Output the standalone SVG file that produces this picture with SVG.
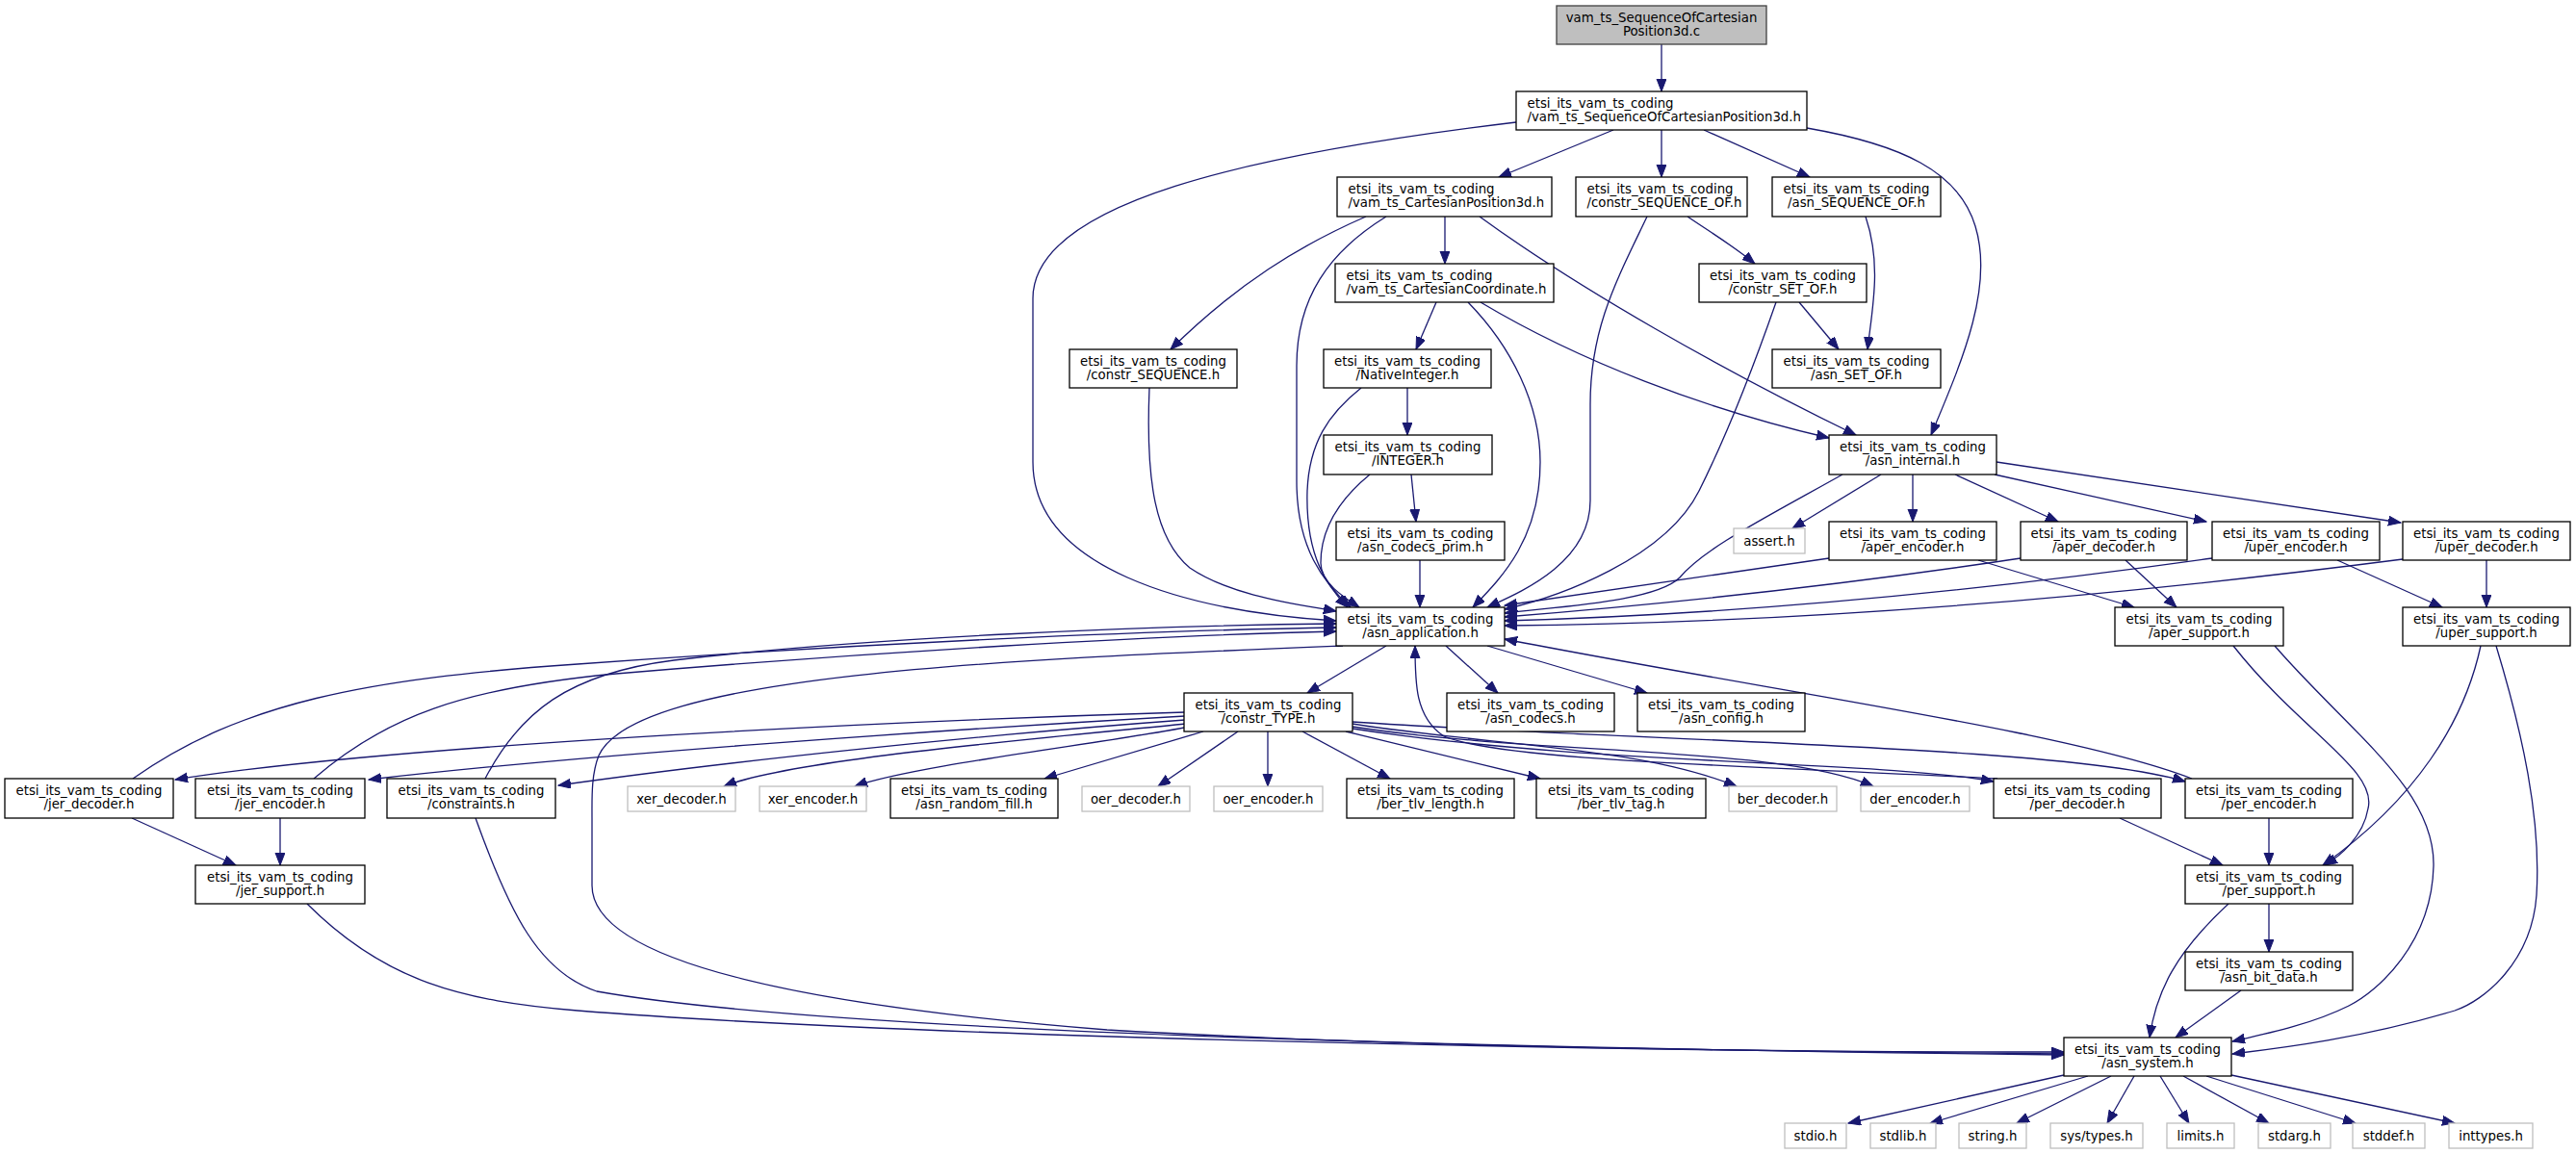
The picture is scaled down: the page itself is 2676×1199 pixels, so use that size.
<svg xmlns="http://www.w3.org/2000/svg" width="2676" height="1199" viewBox="0 0 2676 1199">
<style>
rect{fill:#fff;stroke:#000;stroke-width:1.3}
.gray rect{stroke:#bfbfbf}
.root rect{fill:#bfbfbf;stroke:#404040}
text{font-family:"DejaVu Sans",sans-serif;font-size:13.3px;fill:#000}
.c text{text-anchor:middle}
.edges path{fill:none;stroke:#191970;stroke-width:1.3;marker-end:url(#a)}
</style>
<defs>
<marker id="a" markerUnits="userSpaceOnUse" markerWidth="14" markerHeight="11" refX="13" refY="5" orient="auto"><path d="M0,0 L13,5 L0,10 Z" fill="#191970" stroke="#191970" stroke-width="1"/></marker>
</defs>
<rect x="0" y="0" width="2676" height="1199" style="fill:#fff;stroke:none"/>
<g class="edges">
<path d="M1726,46 L1726,95"/>
<path d="M1676,135 L1557,184"/>
<path d="M1726,135 L1726,184"/>
<path d="M1770,135 L1880,184"/>
<path d="M1575,127 C1300,160 1073,210 1073,310 L1073,480 C1073,590 1230,635 1388,645"/>
<path d="M1877,133 C1975,150 2035,178 2052,235 C2072,300 2036,380 2006,452"/>
<path d="M1419,225 C1350,255 1285,295 1216,363"/>
<path d="M1440,225 C1380,262 1347,310 1347,380 L1347,500 C1347,570 1375,605 1403,631"/>
<path d="M1501,225 L1501,274"/>
<path d="M1537,225 C1640,300 1790,385 1928,452"/>
<path d="M1753,225 C1775,240 1800,255 1823,274"/>
<path d="M1711,225 C1680,290 1652,340 1652,420 L1652,520 C1652,585 1580,615 1545,631"/>
<path d="M1938,225 C1955,275 1945,320 1940,363"/>
<path d="M1492,314 L1471,363"/>
<path d="M1525,314 C1570,360 1600,420 1600,480 C1600,560 1560,600 1530,631"/>
<path d="M1538,314 C1640,375 1770,425 1900,455"/>
<path d="M1869,314 L1910,363"/>
<path d="M1845,314 C1815,400 1790,460 1765,510 C1730,580 1620,620 1563,633"/>
<path d="M1462,403 L1462,452"/>
<path d="M1414,403 C1380,430 1360,460 1358,510 C1356,580 1380,610 1400,631"/>
<path d="M1466,493 L1471,542"/>
<path d="M1423,493 C1390,520 1372,550 1372,585 C1372,605 1395,620 1412,631"/>
<path d="M1475,582 L1475,631"/>
<path d="M1914,493 C1830,540 1770,570 1745,600 C1720,625 1620,630 1563,637"/>
<path d="M1954,493 L1862,549"/>
<path d="M1987,493 L1987,542"/>
<path d="M2031,493 L2138,542"/>
<path d="M2072,493 L2292,542"/>
<path d="M2074,480 L2494,543"/>
<path d="M1900,580 L1563,629"/>
<path d="M2055,582 L2217,631"/>
<path d="M2099,580 C1900,610 1700,630 1563,641"/>
<path d="M2208,582 L2261,631"/>
<path d="M2298,580 C2000,622 1750,640 1563,645"/>
<path d="M2428,582 L2537,631"/>
<path d="M2496,581 C2100,632 1800,648 1563,650"/>
<path d="M2583,582 L2583,631"/>
<path d="M1440,671 L1358,720"/>
<path d="M1502,671 L1556,720"/>
<path d="M1545,671 L1711,720"/>
<path d="M1395,671 C1050,685 660,700 622,785 C614,805 615,830 615,850 L615,920 C615,1010 900,1050 1150,1070 C1500,1090 1900,1093 2144,1093"/>
<path d="M138,809 C250,730 380,705 600,690 C900,668 1200,655 1388,652"/>
<path d="M137,850 L245,899"/>
<path d="M326,809 C400,745 480,715 640,700 C900,678 1200,660 1388,656"/>
<path d="M291,850 L291,899"/>
<path d="M504,809 C540,740 590,700 700,686 C900,662 1200,650 1388,648"/>
<path d="M494,850 C530,950 560,1010 620,1030 C900,1080 1800,1092 2144,1096"/>
<path d="M319,939 C400,1020 480,1040 600,1050 C1000,1082 1800,1092 2144,1095"/>
<path d="M1231,740 C900,750 400,775 182,810"/>
<path d="M1231,744 C950,760 600,785 383,810"/>
<path d="M1231,748 C1000,765 750,792 580,816"/>
<path d="M1232,752 C1050,770 820,790 752,817"/>
<path d="M1235,755 C1150,772 950,795 888,817"/>
<path d="M1250,760 L1085,809"/>
<path d="M1286,760 L1203,817"/>
<path d="M1317,760 L1317,817"/>
<path d="M1353,760 L1444,809"/>
<path d="M1398,760 L1600,809"/>
<path d="M1405,752 C1550,775 1700,775 1804,817"/>
<path d="M1405,755 C1600,785 1850,775 1946,817"/>
<path d="M1405,757 C1650,795 1950,790 2071,812"/>
<path d="M1405,750 C1700,770 2150,775 2270,812"/>
<path d="M2075,809 C1800,795 1560,790 1500,765 C1470,745 1470,710 1470,671"/>
<path d="M2202,850 L2309,899"/>
<path d="M2277,809 C2150,760 1850,720 1563,664"/>
<path d="M2357,850 L2357,899"/>
<path d="M2320,671 C2390,760 2470,800 2460,840 C2455,870 2430,890 2415,899"/>
<path d="M2363,671 C2440,760 2530,820 2528,900 C2526,980 2470,1030 2440,1045 C2400,1065 2350,1075 2319,1082"/>
<path d="M2577,671 C2560,750 2510,830 2413,899"/>
<path d="M2593,671 C2620,760 2640,850 2635,930 C2630,1000 2580,1040 2550,1050 C2450,1080 2360,1090 2319,1095"/>
<path d="M2357,939 L2357,989"/>
<path d="M2315,939 C2260,990 2240,1030 2233,1078"/>
<path d="M2328,1029 L2260,1078"/>
<path d="M1194,403 C1190,500 1200,560 1236,590 C1280,620 1350,628 1388,635"/>
<path d="M2144,1117 L1920,1167"/>
<path d="M2169,1118 L2005,1167"/>
<path d="M2193,1118 L2095,1167"/>
<path d="M2217,1118 L2189,1167"/>
<path d="M2244,1118 L2274,1167"/>
<path d="M2268,1118 L2357,1167"/>
<path d="M2292,1118 L2447,1167"/>
<path d="M2318,1117 L2550,1167"/>
</g>
<g id="n0" class="root c"><rect x="1617" y="6" width="218" height="40"/><text x="1726" y="22.5">vam_ts_SequenceOfCartesian</text><text x="1726" y="37">Position3d.c</text></g>
<g id="n1"><rect x="1575" y="95" width="302" height="40"/><text x="1586.5" y="111.5">etsi_its_vam_ts_coding</text><text x="1586.5" y="126">/vam_ts_SequenceOfCartesianPosition3d.h</text></g>
<g id="n2"><rect x="1389" y="184" width="223" height="41"/><text x="1400.5" y="200.5">etsi_its_vam_ts_coding</text><text x="1400.5" y="215">/vam_ts_CartesianPosition3d.h</text></g>
<g id="n3"><rect x="1637" y="184" width="178" height="41"/><text x="1648.5" y="200.5">etsi_its_vam_ts_coding</text><text x="1648.5" y="215">/constr_SEQUENCE_OF.h</text></g>
<g id="n4" class="c"><rect x="1841" y="184" width="175" height="41"/><text x="1928.5" y="200.5">etsi_its_vam_ts_coding</text><text x="1928.5" y="215">/asn_SEQUENCE_OF.h</text></g>
<g id="n5"><rect x="1387" y="274" width="227" height="40"/><text x="1398.5" y="290.5">etsi_its_vam_ts_coding</text><text x="1398.5" y="305">/vam_ts_CartesianCoordinate.h</text></g>
<g id="n6" class="c"><rect x="1765" y="274" width="174" height="40"/><text x="1852" y="290.5">etsi_its_vam_ts_coding</text><text x="1852" y="305">/constr_SET_OF.h</text></g>
<g id="n7" class="c"><rect x="1111" y="363" width="174" height="40"/><text x="1198" y="379.5">etsi_its_vam_ts_coding</text><text x="1198" y="394">/constr_SEQUENCE.h</text></g>
<g id="n8" class="c"><rect x="1375" y="363" width="174" height="40"/><text x="1462" y="379.5">etsi_its_vam_ts_coding</text><text x="1462" y="394">/NativeInteger.h</text></g>
<g id="n9" class="c"><rect x="1841" y="363" width="175" height="40"/><text x="1928.5" y="379.5">etsi_its_vam_ts_coding</text><text x="1928.5" y="394">/asn_SET_OF.h</text></g>
<g id="n10" class="c"><rect x="1375" y="452" width="175" height="41"/><text x="1462.5" y="468.5">etsi_its_vam_ts_coding</text><text x="1462.5" y="483">/INTEGER.h</text></g>
<g id="n11" class="c"><rect x="1900" y="452" width="174" height="41"/><text x="1987" y="468.5">etsi_its_vam_ts_coding</text><text x="1987" y="483">/asn_internal.h</text></g>
<g id="n12" class="c"><rect x="1388" y="542" width="175" height="40"/><text x="1475.5" y="558.5">etsi_its_vam_ts_coding</text><text x="1475.5" y="573">/asn_codecs_prim.h</text></g>
<g id="n13" class="gray c"><rect x="1801" y="549" width="74" height="26"/><text x="1838" y="566.5">assert.h</text></g>
<g id="n14" class="c"><rect x="1900" y="542" width="174" height="40"/><text x="1987" y="558.5">etsi_its_vam_ts_coding</text><text x="1987" y="573">/aper_encoder.h</text></g>
<g id="n15" class="c"><rect x="2099" y="542" width="173" height="40"/><text x="2185.5" y="558.5">etsi_its_vam_ts_coding</text><text x="2185.5" y="573">/aper_decoder.h</text></g>
<g id="n16" class="c"><rect x="2298" y="542" width="174" height="40"/><text x="2385" y="558.5">etsi_its_vam_ts_coding</text><text x="2385" y="573">/uper_encoder.h</text></g>
<g id="n17" class="c"><rect x="2496" y="542" width="174" height="40"/><text x="2583" y="558.5">etsi_its_vam_ts_coding</text><text x="2583" y="573">/uper_decoder.h</text></g>
<g id="n18" class="c"><rect x="1388" y="631" width="175" height="40"/><text x="1475.5" y="647.5">etsi_its_vam_ts_coding</text><text x="1475.5" y="662">/asn_application.h</text></g>
<g id="n19" class="c"><rect x="2197" y="631" width="175" height="40"/><text x="2284.5" y="647.5">etsi_its_vam_ts_coding</text><text x="2284.5" y="662">/aper_support.h</text></g>
<g id="n20" class="c"><rect x="2496" y="631" width="174" height="40"/><text x="2583" y="647.5">etsi_its_vam_ts_coding</text><text x="2583" y="662">/uper_support.h</text></g>
<g id="n21" class="c"><rect x="1230" y="720" width="175" height="40"/><text x="1317.5" y="736.5">etsi_its_vam_ts_coding</text><text x="1317.5" y="751">/constr_TYPE.h</text></g>
<g id="n22" class="c"><rect x="1503" y="720" width="174" height="40"/><text x="1590" y="736.5">etsi_its_vam_ts_coding</text><text x="1590" y="751">/asn_codecs.h</text></g>
<g id="n23" class="c"><rect x="1701" y="720" width="174" height="40"/><text x="1788" y="736.5">etsi_its_vam_ts_coding</text><text x="1788" y="751">/asn_config.h</text></g>
<g id="n24" class="c"><rect x="5" y="809" width="175" height="41"/><text x="92.5" y="825.5">etsi_its_vam_ts_coding</text><text x="92.5" y="840">/jer_decoder.h</text></g>
<g id="n25" class="c"><rect x="203" y="809" width="176" height="41"/><text x="291" y="825.5">etsi_its_vam_ts_coding</text><text x="291" y="840">/jer_encoder.h</text></g>
<g id="n26" class="c"><rect x="402" y="809" width="175" height="41"/><text x="489.5" y="825.5">etsi_its_vam_ts_coding</text><text x="489.5" y="840">/constraints.h</text></g>
<g id="n27" class="gray c"><rect x="652" y="817" width="112" height="26"/><text x="708" y="834.5">xer_decoder.h</text></g>
<g id="n28" class="gray c"><rect x="789" y="817" width="111" height="26"/><text x="844.5" y="834.5">xer_encoder.h</text></g>
<g id="n29" class="c"><rect x="925" y="809" width="174" height="41"/><text x="1012" y="825.5">etsi_its_vam_ts_coding</text><text x="1012" y="840">/asn_random_fill.h</text></g>
<g id="n30" class="gray c"><rect x="1124" y="817" width="112" height="26"/><text x="1180" y="834.5">oer_decoder.h</text></g>
<g id="n31" class="gray c"><rect x="1261" y="817" width="113" height="26"/><text x="1317.5" y="834.5">oer_encoder.h</text></g>
<g id="n32" class="c"><rect x="1399" y="809" width="174" height="41"/><text x="1486" y="825.5">etsi_its_vam_ts_coding</text><text x="1486" y="840">/ber_tlv_length.h</text></g>
<g id="n33" class="c"><rect x="1596" y="809" width="176" height="41"/><text x="1684" y="825.5">etsi_its_vam_ts_coding</text><text x="1684" y="840">/ber_tlv_tag.h</text></g>
<g id="n34" class="gray c"><rect x="1796" y="817" width="112" height="26"/><text x="1852" y="834.5">ber_decoder.h</text></g>
<g id="n35" class="gray c"><rect x="1933" y="817" width="113" height="26"/><text x="1989.5" y="834.5">der_encoder.h</text></g>
<g id="n36" class="c"><rect x="2071" y="809" width="174" height="41"/><text x="2158" y="825.5">etsi_its_vam_ts_coding</text><text x="2158" y="840">/per_decoder.h</text></g>
<g id="n37" class="c"><rect x="2270" y="809" width="174" height="41"/><text x="2357" y="825.5">etsi_its_vam_ts_coding</text><text x="2357" y="840">/per_encoder.h</text></g>
<g id="n38" class="c"><rect x="203" y="899" width="176" height="40"/><text x="291" y="915.5">etsi_its_vam_ts_coding</text><text x="291" y="930">/jer_support.h</text></g>
<g id="n39" class="c"><rect x="2270" y="899" width="174" height="40"/><text x="2357" y="915.5">etsi_its_vam_ts_coding</text><text x="2357" y="930">/per_support.h</text></g>
<g id="n40" class="c"><rect x="2270" y="989" width="174" height="40"/><text x="2357" y="1005.5">etsi_its_vam_ts_coding</text><text x="2357" y="1020">/asn_bit_data.h</text></g>
<g id="n41" class="c"><rect x="2144" y="1078" width="174" height="40"/><text x="2231" y="1094.5">etsi_its_vam_ts_coding</text><text x="2231" y="1109">/asn_system.h</text></g>
<g id="n42" class="gray c"><rect x="1854" y="1167" width="64" height="26"/><text x="1886" y="1184.5">stdio.h</text></g>
<g id="n43" class="gray c"><rect x="1943" y="1167" width="68" height="26"/><text x="1977" y="1184.5">stdlib.h</text></g>
<g id="n44" class="gray c"><rect x="2035" y="1167" width="70" height="26"/><text x="2070" y="1184.5">string.h</text></g>
<g id="n45" class="gray c"><rect x="2130" y="1167" width="96" height="26"/><text x="2178" y="1184.5">sys/types.h</text></g>
<g id="n46" class="gray c"><rect x="2251" y="1167" width="70" height="26"/><text x="2286" y="1184.5">limits.h</text></g>
<g id="n47" class="gray c"><rect x="2346" y="1167" width="75" height="26"/><text x="2383.5" y="1184.5">stdarg.h</text></g>
<g id="n48" class="gray c"><rect x="2444" y="1167" width="75" height="26"/><text x="2481.5" y="1184.5">stddef.h</text></g>
<g id="n49" class="gray c"><rect x="2544" y="1167" width="87" height="26"/><text x="2587.5" y="1184.5">inttypes.h</text></g>
</svg>
